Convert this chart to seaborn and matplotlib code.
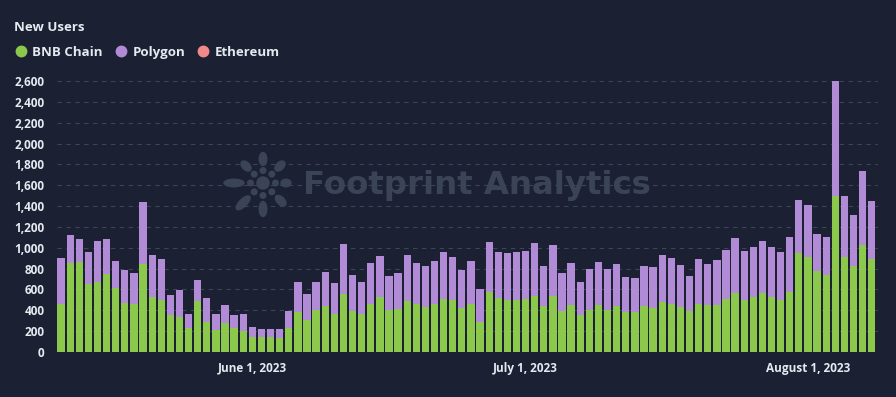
import numpy as np
import pandas as pd
import matplotlib
matplotlib.use("Agg")
import matplotlib.pyplot as plt
import seaborn as sns
from matplotlib.lines import Line2D
from matplotlib.patches import Ellipse, Circle
from matplotlib.ticker import FuncFormatter

# daily new users, 2023-05-11 .. 2023-08-08
days = pd.date_range("2023-05-11", "2023-08-08", freq="D")
bnb = [462, 857, 864, 657, 676, 752, 612, 468, 459, 848,
       526, 497, 357, 335, 233, 491, 284, 214, 280, 229,
       204, 140, 140, 140, 134, 229, 382, 309, 402, 437,
       367, 558, 392, 360, 459, 523, 402, 411, 491, 462,
       430, 465, 510, 494, 421, 459, 290, 580, 516, 494,
       497, 510, 539, 437, 535, 392, 446, 354, 406, 447,
       406, 438, 380, 380, 438, 425, 479, 463, 431, 393,
       460, 447, 450, 511, 565, 502, 527, 565, 524, 502,
       575, 949, 914, 773, 741, 1492, 911, 821, 1029, 891]
polygon = [437, 262, 220, 299, 392, 332, 264, 316, 300, 589,
           401, 392, 191, 258, 130, 197, 236, 149, 169, 122,
           156, 102, 83, 83, 89, 166, 287, 252, 267, 328,
           293, 475, 347, 309, 392, 395, 328, 344, 436, 395,
           396, 411, 453, 417, 369, 411, 316, 478, 447, 453,
           462, 462, 503, 385, 488, 367, 405, 315, 393, 419,
           386, 405, 342, 326, 389, 393, 451, 441, 406, 339,
           435, 396, 429, 470, 528, 463, 479, 496, 482, 453,
           527, 508, 498, 358, 364, 1109, 581, 495, 712, 559]
series_names = ["BNB Chain", "Polygon", "Ethereum"]
date_ticks = ["2023-06-01", "2023-07-01", "2023-08-01"]
date_tick_labels = ["June 1, 2023", "July 1, 2023", "August 1, 2023"]
y_ticks = list(range(0, 2601, 200))

BG = "#1b2133"
GREEN = "#8cc84b"
PURPLE = "#b18bd6"
PINK = "#f08a8a"
TXT = "#e6e9f0"
GRID = "#3c4458"
WM = "#3b4457"

sns.set_style("dark")
plt.rcParams['font.family'] = ['Open Sans', 'DejaVu Sans']

df = pd.DataFrame({"day": days, "bnb": bnb, "polygon": polygon})
df["total"] = df["bnb"] + df["polygon"]
df["pos"] = np.arange(len(df))

fig = plt.figure(figsize=(8.96, 3.97), dpi=100, facecolor=BG)
ax = fig.add_axes([0.0636, 0.1134, 0.9164, 0.6826], facecolor=BG)

sns.barplot(data=df, x="pos", y="total", color=PURPLE, saturation=1,
            width=0.8, ax=ax, linewidth=0)
sns.barplot(data=df, x="pos", y="bnb", color=GREEN, saturation=1,
            width=0.8, ax=ax, linewidth=0)

ax.set_ylim(0, 2600)
ax.set_xlim(-0.45, len(df) - 0.3)
ax.set_yticks(y_ticks)
ax.yaxis.set_major_formatter(FuncFormatter(lambda v, p: f"{int(v):,}"))
for v in y_ticks[1:]:
    ax.axhline(v, color=GRID, lw=0.8, ls=(0, (4, 4)), zorder=0)
ax.grid(False)

tick_pos = [df.index[df["day"] == pd.Timestamp(d)][0] for d in date_ticks]
ax.set_xticks(tick_pos)
ax.set_xticklabels(date_tick_labels)
ax.tick_params(axis="both", length=0, colors=TXT, labelsize=8.5)
ax.tick_params(axis="x", pad=7)
ax.tick_params(axis="y", pad=9)
for lab in ax.get_xticklabels() + ax.get_yticklabels():
    lab.set_fontweight("bold")
ax.set_xlabel("")
ax.set_ylabel("")
for s in ax.spines.values():
    s.set_visible(False)
ax.axhline(0, color=GRID, lw=0.8, zorder=0)

# watermark: logo + name (pixel positions converted to inches)
def px(x, y):
    return (x / 100, (397 - y) / 100)

tr = fig.dpi_scale_trans
cx, cy = 263, 183
fig.add_artist(Circle(px(cx, cy), 0.06, transform=tr, color=WM, zorder=0.5))
for k in range(8):
    a = np.deg2rad(90 - 45 * k)
    fig.add_artist(Circle(px(cx + 12.5 * np.cos(a), cy - 12.5 * np.sin(a)), 0.028,
                          transform=tr, color=WM, zorder=0.5))
petals = [(90, 24, 13), (45, 24, 12), (0, 23, 10), (-45, 25, 13),
          (-90, 26, 15), (-135, 28, 18), (180, 29, 20), (135, 24, 12)]
for ang, dist, length in petals:
    a = np.deg2rad(ang)
    fig.add_artist(Ellipse(px(cx + dist * np.cos(a), cy - dist * np.sin(a)),
                           length / 100, 0.075, angle=ang, transform=tr,
                           color=WM, zorder=0.5))
fig.text(303 / 896, 0.532, "Footprint Analytics", color=WM, fontsize=23.3,
         fontweight="bold", ha="left", va="center", zorder=0.5,
         family="DejaVu Sans")

fig.text(0.016, 0.93, "New Users", color=TXT, fontsize=9.5, fontweight="bold",
         ha="left", va="center")
handles = [Line2D([], [], marker="o", ls="", color=c, markersize=7.5)
           for c in (GREEN, PURPLE, PINK)]
leg = fig.legend(handles, series_names, loc="center left",
                 bbox_to_anchor=(-0.001, 0.868), ncol=3, frameon=False,
                 handletextpad=0.1, columnspacing=0.65, handlelength=1.5,
                 prop={"weight": "bold", "size": 9.5})
for t in leg.get_texts():
    t.set_color(TXT)

fig.savefig("out.png", dpi=100, facecolor=BG)
